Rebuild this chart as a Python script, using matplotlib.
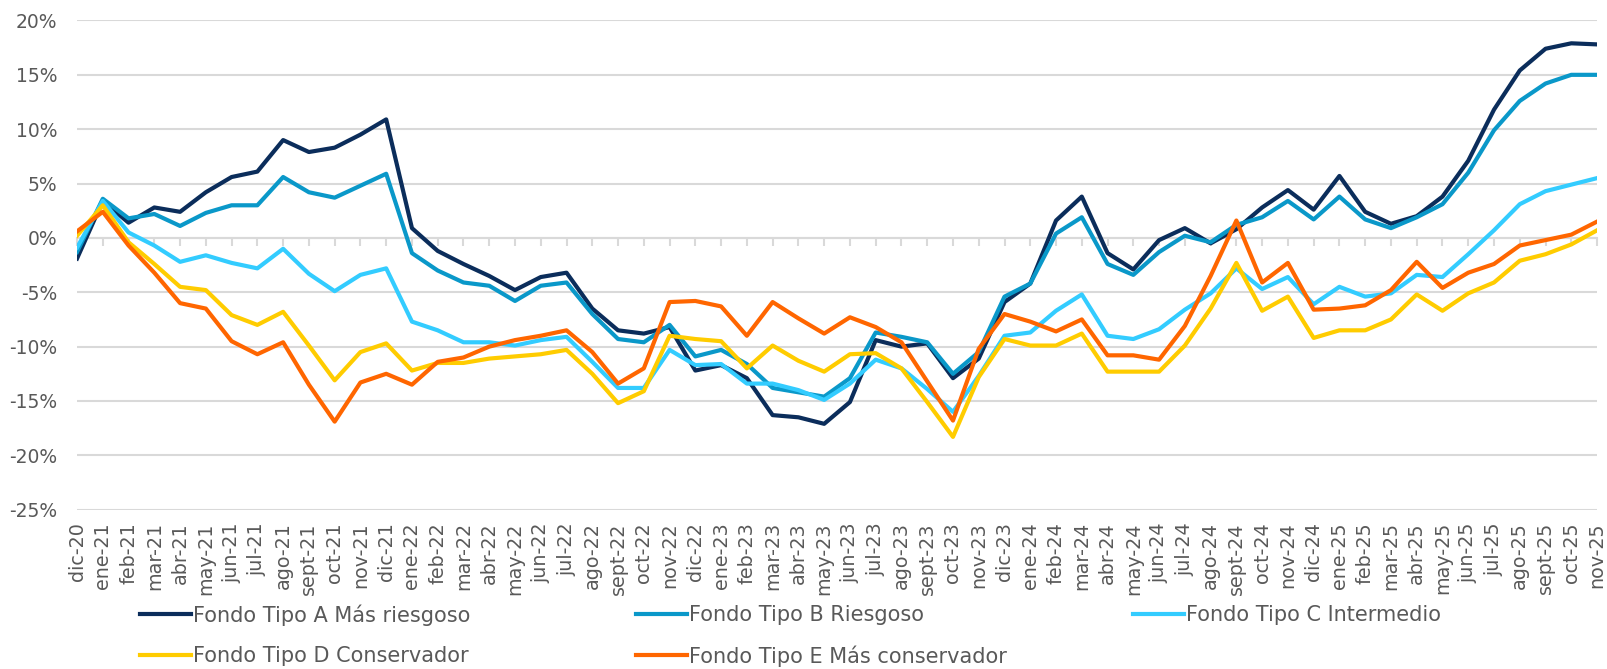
import numpy as np
import matplotlib
matplotlib.use("agg")
from matplotlib import pyplot as plt
from matplotlib.ticker import FuncFormatter

# month labels, dic-20 .. nov-25
months = ["dic-20",
          "ene-21", "feb-21", "mar-21", "abr-21", "may-21", "jun-21",
          "jul-21", "ago-21", "sept-21", "oct-21", "nov-21", "dic-21",
          "ene-22", "feb-22", "mar-22", "abr-22", "may-22", "jun-22",
          "jul-22", "ago-22", "sept-22", "oct-22", "nov-22", "dic-22",
          "ene-23", "feb-23", "mar-23", "abr-23", "may-23", "jun-23",
          "jul-23", "ago-23", "sept-23", "oct-23", "nov-23", "dic-23",
          "ene-24", "feb-24", "mar-24", "abr-24", "may-24", "jun-24",
          "jul-24", "ago-24", "sept-24", "oct-24", "nov-24", "dic-24",
          "ene-25", "feb-25", "mar-25", "abr-25", "may-25", "jun-25",
          "jul-25", "ago-25", "sept-25", "oct-25", "nov-25"]

fondo_a = [-1.9, 3.4, 1.4, 2.8, 2.4, 4.2, 5.6, 6.1, 9.0, 7.9, 8.3, 9.5, 10.9,
           0.9, -1.2, -2.4, -3.5, -4.8, -3.6, -3.2, -6.5, -8.5, -8.8, -8.2, -12.2,
           -11.7, -12.9, -16.3, -16.5, -17.1, -15.1, -9.4, -10.0, -9.7, -12.9, -11.1, -5.9,
           -4.2, 1.6, 3.8, -1.4, -2.9, -0.2, 0.9, -0.5, 0.8, 2.8, 4.4, 2.6,
           5.7, 2.4, 1.3, 2.0, 3.8, 7.1, 11.8, 15.4, 17.4, 17.9, 17.8]
fondo_b = [-1.3, 3.6, 1.8, 2.2, 1.1, 2.3, 3.0, 3.0, 5.6, 4.2, 3.7, 4.8, 5.9,
           -1.4, -3.0, -4.1, -4.4, -5.8, -4.4, -4.1, -7.0, -9.3, -9.6, -8.0, -10.9,
           -10.3, -11.6, -13.8, -14.2, -14.6, -12.9, -8.7, -9.1, -9.6, -12.5, -10.5, -5.4,
           -4.2, 0.4, 1.9, -2.4, -3.4, -1.3, 0.2, -0.4, 1.2, 1.9, 3.4, 1.7,
           3.8, 1.7, 0.9, 1.9, 3.1, 6.0, 9.9, 12.6, 14.2, 15.0, 15.0]
fondo_c = [-0.9, 3.4, 0.5, -0.7, -2.2, -1.6, -2.3, -2.8, -1.0, -3.3, -4.9, -3.4, -2.8,
           -7.7, -8.5, -9.6, -9.6, -9.9, -9.4, -9.1, -11.4, -13.8, -13.8, -10.3, -11.7,
           -11.6, -13.4, -13.4, -14.0, -14.9, -13.4, -11.2, -12.0, -13.9, -16.0, -12.7, -9.0,
           -8.7, -6.7, -5.2, -9.0, -9.3, -8.4, -6.6, -5.1, -2.8, -4.7, -3.6, -6.1,
           -4.5, -5.4, -5.1, -3.4, -3.6, -1.5, 0.7, 3.1, 4.3, 4.9, 5.5]
fondo_d = [0.2, 3.0, -0.4, -2.4, -4.5, -4.8, -7.1, -8.0, -6.8, -9.9, -13.1, -10.5, -9.7,
           -12.2, -11.5, -11.5, -11.1, -10.9, -10.7, -10.3, -12.5, -15.2, -14.1, -9.0, -9.3,
           -9.5, -12.0, -9.9, -11.3, -12.3, -10.7, -10.6, -12.0, -15.1, -18.3, -12.8, -9.3,
           -9.9, -9.9, -8.8, -12.3, -12.3, -12.3, -9.9, -6.5, -2.3, -6.7, -5.4, -9.2,
           -8.5, -8.5, -7.5, -5.2, -6.7, -5.1, -4.1, -2.1, -1.5, -0.6, 0.7]
fondo_e = [0.6, 2.4, -0.7, -3.2, -6.0, -6.5, -9.5, -10.7, -9.6, -13.5, -16.9, -13.3, -12.5,
           -13.5, -11.4, -11.0, -10.0, -9.4, -9.0, -8.5, -10.5, -13.4, -12.0, -5.9, -5.8,
           -6.3, -9.0, -5.9, -7.4, -8.8, -7.3, -8.2, -9.6, -13.2, -16.8, -10.2, -7.0,
           -7.7, -8.6, -7.5, -10.8, -10.8, -11.2, -8.1, -3.5, 1.6, -4.1, -2.3, -6.6,
           -6.5, -6.2, -4.8, -2.2, -4.6, -3.2, -2.4, -0.7, -0.2, 0.3, 1.5]

series = [
    ("Fondo Tipo A Más riesgoso", fondo_a, "#0b2d5b"),
    ("Fondo Tipo B Riesgoso", fondo_b, "#0a98c9"),
    ("Fondo Tipo C Intermedio", fondo_c, "#33ccff"),
    ("Fondo Tipo D Conservador", fondo_d, "#ffcc00"),
    ("Fondo Tipo E Más conservador", fondo_e, "#ff6600"),
]

grey = "#d9d9d9"
txt = "#595959"
fs_y = 13.5      # y tick labels
fs_x = 13.8      # month labels
fs_leg = 15      # legend
plt.rcParams["font.family"] = ["DejaVu Sans"]

fig = plt.figure(figsize=(16.08, 6.69), dpi=100)
ax = fig.add_axes([0.0479, 0.2381, 0.9453, 0.7313])

x = np.arange(len(months))
lines = []
for label, vals, col in series:
    ln, = ax.plot(x, vals, color=col, lw=3, label=label, zorder=3)
    lines.append(ln)

ax.set_xlim(0, len(months) - 1)
ax.set_ylim(-25, 20)
ax.set_yticks(range(-25, 21, 5))
ax.yaxis.set_major_formatter(FuncFormatter(lambda v, p: "{:.0f}%".format(v)))
ax.yaxis.grid(True, color=grey, lw=1.5)
ax.set_axisbelow(True)
for s in ["top", "right", "left"]:
    ax.spines[s].set_visible(False)
ax.spines["bottom"].set_position(("data", 0))
ax.spines["bottom"].set_color(grey)
ax.spines["bottom"].set_linewidth(1.5)
ax.set_xticks(x)
ax.tick_params(axis="x", direction="out", length=6, width=1.5, color=grey,
               labelbottom=False)
ax.tick_params(axis="y", length=0, pad=14, labelsize=fs_y, labelcolor=txt)

# month labels along the bottom edge
sec = ax.secondary_xaxis(0)
sec.set_xticks(x, labels=months)
sec.tick_params(length=0, pad=9, labelsize=fs_x, labelcolor=txt, rotation=90)
sec.spines["bottom"].set_visible(False)

# legend, two rows of three slots
slots = [(0.0871, 0.0807), (0.3955, 0.0807), (0.7046, 0.0807),
         (0.0871, 0.0194), (0.3955, 0.0194)]
for ln, (lx, ly) in zip(lines, slots):
    leg = fig.legend(handles=[ln], loc="center left", bbox_to_anchor=(lx, ly),
                     frameon=False, fontsize=fs_leg, handlelength=2.43,
                     handletextpad=0.1, borderpad=0, borderaxespad=0)
    for t in leg.get_texts():
        t.set_color(txt)

fig.savefig("out.png", dpi=100, facecolor="white")
